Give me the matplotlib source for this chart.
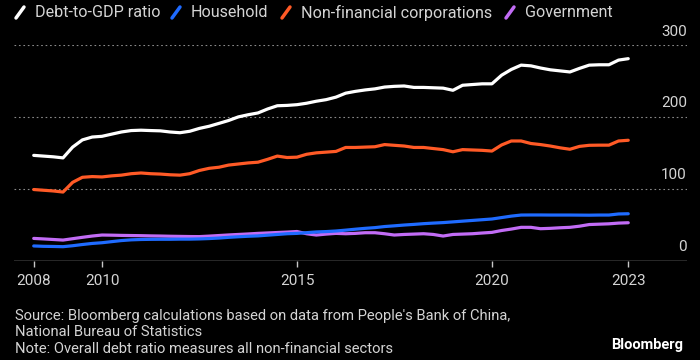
import matplotlib
matplotlib.use("Agg")
import matplotlib.pyplot as plt
from matplotlib.lines import Line2D
import pandas as pd

# quarterly, 2008Q1 .. 2023Q2 (end of quarter)
dates = pd.date_range("2008-03-31", "2023-06-30", freq="QE")

total = [146.5, 145.5, 144.5, 143, 158, 168, 172, 173,
         176, 179, 181, 181.5, 181, 180.6, 179, 178,
         180, 184, 187, 191, 195, 200, 203, 205.5,
         211, 215.5, 216, 217, 219, 221.8, 224, 227.5,
         233, 235.5, 237.5, 239, 241.5, 242.5, 243, 241,
         241, 240.5, 240, 237, 244, 245, 246, 246,
         258, 266, 272, 271, 268, 265.5, 264, 262.5,
         267.5, 272, 272.5, 272.5, 279, 281]
household = [20.5, 20, 19.8, 19.5, 20.8, 22.5, 24, 25,
             26.5, 28, 29, 29.5, 29.7, 29.8, 29.8, 30,
             30, 30.3, 30.8, 31.5, 32.5, 33.3, 34, 34.5,
             35.5, 36.5, 37.5, 38, 39, 40, 40.5, 41.3,
             42.5, 43.8, 45, 46, 47.5, 48.5, 49.6, 50.5,
             51.5, 52.3, 53, 54, 55, 56, 57, 58,
             60, 62, 63.5, 63.6, 63.6, 63.5, 63.5, 63.5,
             63.4, 63.3, 63.5, 63.5, 65, 65.3]
corporate = [99, 98, 97, 95.5, 109, 116, 117, 116.5,
             118, 119, 121, 122, 121, 120.5, 119.5, 119,
             121, 125.5, 128.5, 130, 133, 134.5, 136, 137,
             141, 145.5, 143.5, 144, 148, 150, 151, 152,
             157.5, 157.5, 158, 158.5, 161.5, 160.5, 159.5, 157.5,
             157.5, 156, 154.5, 151.5, 154.5, 154, 153.5, 152.5,
             161, 166.5, 166.5, 163, 161.5, 159.5, 157, 155,
             159, 160.5, 160.7, 160.7, 166.5, 167.5]
government = [31, 30.3, 29.5, 28.7, 30.6, 32.5, 34.3, 35.7,
              35.5, 35.2, 35, 34.8, 34.5, 34.3, 34, 33.8,
              33.6, 33.5, 34.2, 35, 35.8, 36.5, 37.2, 38,
              38.6, 39.2, 39.8, 40.6, 37.5, 35.7, 37, 38,
              37.5, 38, 38.9, 38.9, 37.5, 35.7, 36.5, 37,
              37.5, 36.5, 34.3, 36.5, 37, 37.5, 38.5, 39.4,
              42, 44, 46.4, 46.4, 44.5, 45, 45.8, 46.4,
              48, 50.3, 50.8, 51.3, 52.3, 52.8]

series_names = ["Debt-to-GDP ratio", "Household", "Non-financial corporations", "Government"]
series_colors = ["#ffffff", "#1f6bff", "#ff5a26", "#c26cf5"]
y_ticks = [0, 100, 200, 300]
footer = ["Source: Bloomberg calculations based on data from People's Bank of China,",
          "National Bureau of Statistics",
          "Note: Overall debt ratio measures all non-financial sectors"]

# decimal years for x
x = [d.year + (d.dayofyear - 1) / (366 if d.is_leap_year else 365) for d in dates]

plt.rcParams['font.family'] = ['Roboto', 'DejaVu Sans']
txt = "#d4d4d4"

fig = plt.figure(figsize=(7, 3.6), dpi=100, facecolor="black")
ax = fig.add_axes([14 / 700, 1 - 260.7 / 360, (687 - 14) / 700, (260.7 - 45) / 360])
ax.set_facecolor("black")

# draw back to front so white is on top
for vals, col in [(government, series_colors[3]), (household, series_colors[1]),
                  (corporate, series_colors[2]), (total, series_colors[0])]:
    ax.plot(x, vals, color=col, lw=2.3, solid_capstyle="round", clip_on=False, zorder=3)

ax.set_xlim(2007.74, 2025.0)
ax.set_ylim(0, 300)

for v in y_ticks[1:]:
    ax.axhline(v, color="#8a8a8a", lw=0.8, ls=(0, (1.5, 2.5)), zorder=1)
ax.axhline(0, color="#c8c8c8", lw=1.0, zorder=2)
for v in y_ticks:
    ax.text(1.0, v + 9, str(v), transform=ax.get_yaxis_transform(), ha="right", va="bottom",
            color=txt, fontsize=11)

for s in ax.spines.values():
    s.set_visible(False)
ax.set_yticks([])
ax.set_xticks([x[0], 2010, 2015, 2020, x[-1]])
ax.set_xticklabels(["2008", "2010", "2015", "2020", "2023"])
ax.tick_params(axis="x", colors="#c8c8c8", length=4.5, width=1, labelcolor=txt,
               labelsize=11, pad=5)

# legend row
leg_x = [16, 172, 282, 506]
for name, col, lx in zip(series_names, series_colors, leg_x):
    fig.add_artist(Line2D([lx / 700, (lx + 8) / 700], [1 - 18 / 360, 1 - 7 / 360],
                          transform=fig.transFigure, color=col, lw=2.5, solid_capstyle="round"))
    fig.text((lx + 19) / 700, 1 - 12.5 / 360, name, color=txt, fontsize=11.6, va="center", ha="left")

for line, yy in zip(footer, [316, 332.5, 349]):
    fig.text(15 / 700, 1 - yy / 360, line, color=txt, fontsize=10.6, va="center", ha="left")
fig.text(683 / 700, 1 - 345 / 360, "Bloomberg", color="white", fontsize=10.5,
         fontweight="bold", va="center", ha="right")

fig.savefig("out.png", dpi=100, facecolor="black")
